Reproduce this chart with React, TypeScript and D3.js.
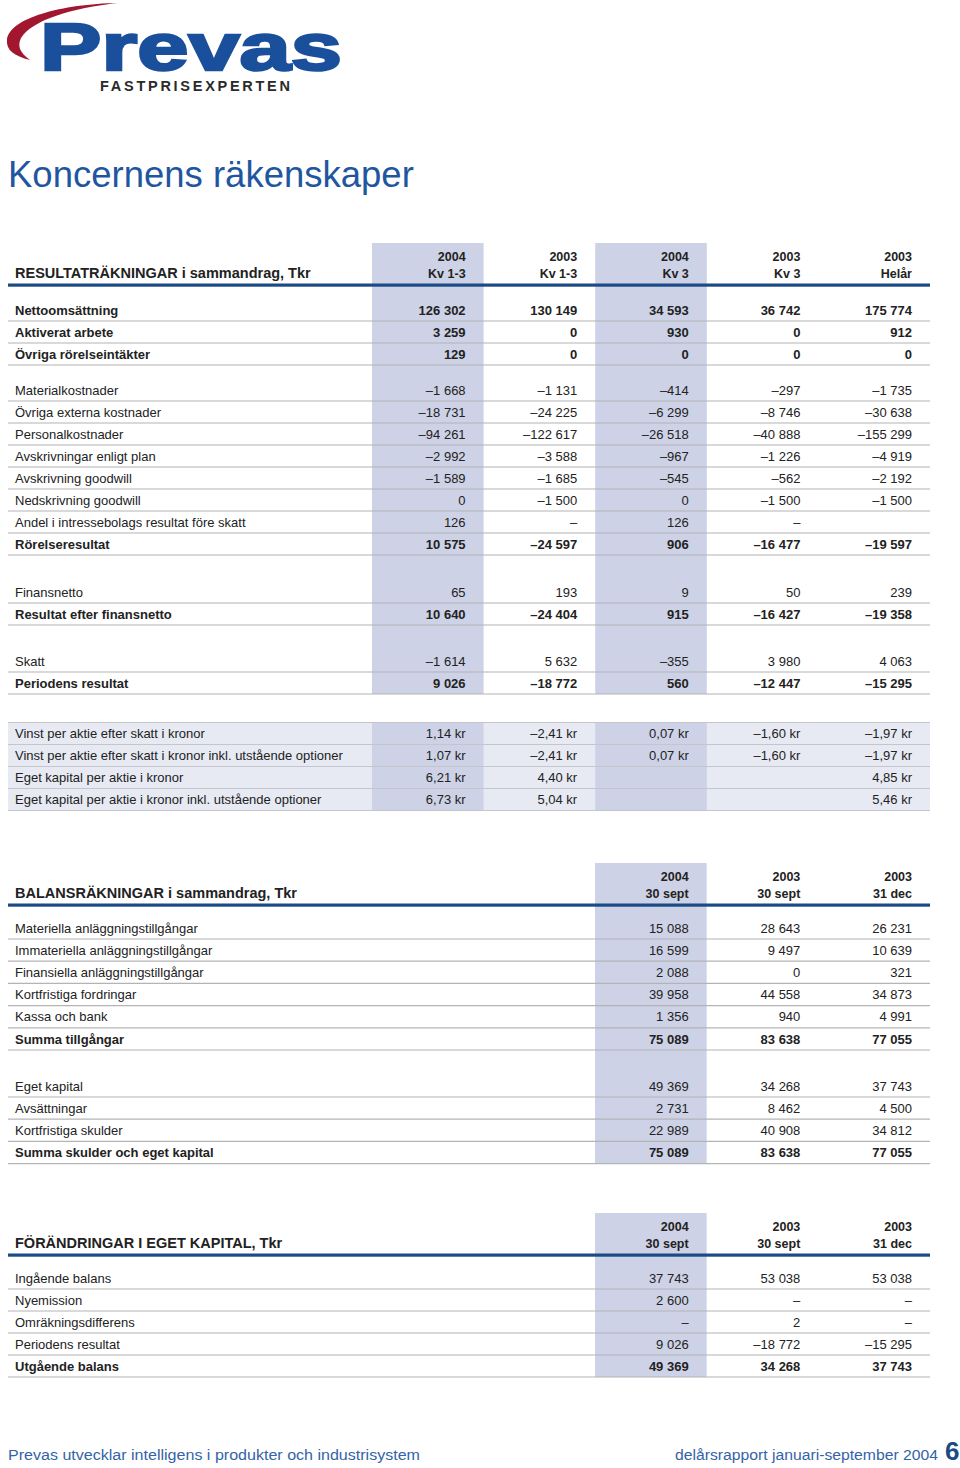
import React, { useEffect, useRef } from "react";
import * as d3 from "d3";

const DASH = "–";
type Cell = number | string | null;

// RESULTATRÄKNINGAR
const incomeHeads = [["2004", "Kv 1-3"], ["2003", "Kv 1-3"], ["2004", "Kv 3"], ["2003", "Kv 3"], ["2003", "Helår"]];
const incomeLabels = [
  "Nettoomsättning", "Aktiverat arbete", "Övriga rörelseintäkter",
  "Materialkostnader", "Övriga externa kostnader", "Personalkostnader", "Avskrivningar enligt plan",
  "Avskrivning goodwill", "Nedskrivning goodwill", "Andel i intressebolags resultat före skatt", "Rörelseresultat",
  "Finansnetto", "Resultat efter finansnetto",
  "Skatt", "Periodens resultat",
];
const income2004Kv13: Cell[] = [126302, 3259, 129, -1668, -18731, -94261, -2992, -1589, 0, 126, 10575, 65, 10640, -1614, 9026];
const income2003Kv13: Cell[] = [130149, 0, 0, -1131, -24225, -122617, -3588, -1685, -1500, DASH, -24597, 193, -24404, 5632, -18772];
const income2004Kv3: Cell[] = [34593, 930, 0, -414, -6299, -26518, -967, -545, 0, 126, 906, 9, 915, -355, 560];
const income2003Kv3: Cell[] = [36742, 0, 0, -297, -8746, -40888, -1226, -562, -1500, DASH, -16477, 50, -16427, 3980, -12447];
const income2003Helar: Cell[] = [175774, 912, 0, -1735, -30638, -155299, -4919, -2192, -1500, null, -19597, 239, -19358, 4063, -15295];
const incomeBold = ["Nettoomsättning", "Aktiverat arbete", "Övriga rörelseintäkter", "Rörelseresultat", "Resultat efter finansnetto", "Periodens resultat"];

// Nyckeltal per aktie (kr)
const shareLabels = [
  "Vinst per aktie efter skatt i kronor",
  "Vinst per aktie efter skatt i kronor inkl. utstående optioner",
  "Eget kapital per aktie i kronor",
  "Eget kapital per aktie i kronor inkl. utstående optioner",
];
const share2004Kv13: Cell[] = [1.14, 1.07, 6.21, 6.73];
const share2003Kv13: Cell[] = [-2.41, -2.41, 4.40, 5.04];
const share2004Kv3: Cell[] = [0.07, 0.07, null, null];
const share2003Kv3: Cell[] = [-1.60, -1.60, null, null];
const share2003Helar: Cell[] = [-1.97, -1.97, 4.85, 5.46];

// BALANSRÄKNINGAR
const balanceHeads = [["2004", "30 sept"], ["2003", "30 sept"], ["2003", "31 dec"]];
const balanceLabels = [
  "Materiella anläggningstillgångar", "Immateriella anläggningstillgångar", "Finansiella anläggningstillgångar",
  "Kortfristiga fordringar", "Kassa och bank", "Summa tillgångar",
  "Eget kapital", "Avsättningar", "Kortfristiga skulder", "Summa skulder och eget kapital",
];
const balance2004Sep: Cell[] = [15088, 16599, 2088, 39958, 1356, 75089, 49369, 2731, 22989, 75089];
const balance2003Sep: Cell[] = [28643, 9497, 0, 44558, 940, 83638, 34268, 8462, 40908, 83638];
const balance2003Dec: Cell[] = [26231, 10639, 321, 34873, 4991, 77055, 37743, 4500, 34812, 77055];
const balanceBold = ["Summa tillgångar", "Summa skulder och eget kapital"];

// FÖRÄNDRINGAR I EGET KAPITAL
const equityLabels = ["Ingående balans", "Nyemission", "Omräkningsdifferens", "Periodens resultat", "Utgående balans"];
const equity2004Sep: Cell[] = [37743, 2600, DASH, 9026, 49369];
const equity2003Sep: Cell[] = [53038, DASH, 2, -18772, 34268];
const equity2003Dec: Cell[] = [53038, DASH, DASH, -15295, 37743];
const equityBold = ["Utgående balans"];

const FONT = "'Liberation Sans', Arial, Helvetica, sans-serif";
const SHADE = "#cdd2e6";
const SHADE_LIGHT = "#e7eaf3";
const NAVY = "#1b4a85";
const RULE = "#b4b4b4";
const INK = "#222";

const sv = d3.formatLocale({ decimal: ",", thousands: " ", grouping: [3], currency: ["", " kr"], minus: "–" });
const fmtInt = sv.format(",d");
const fmtKr = sv.format("$.2f");

function cellText(v: Cell, kr = false) {
  if (v === null) return "";
  if (typeof v === "string") return v;
  return kr ? fmtKr(v) : fmtInt(v);
}

function drawTable(svg: any, o: any) {
  const g = svg.append("g");
  const x = d3.scaleBand<number>().domain(d3.range(o.series.length)).range(o.xRange).padding(0);
  const lineY = o.top + 42;
  const rowsY: number[] = [];
  let y = lineY + o.first;
  o.labels.forEach((_: string, i: number) => {
    if (i > 0) y += o.rowH + (o.gaps[i] || 0);
    rowsY.push(y);
  });
  const bottom = rowsY[rowsY.length - 1] + 11;

  g.selectAll("rect.shade")
    .data(o.shaded)
    .enter().append("rect")
    .attr("x", (d: number) => x(d)!)
    .attr("y", o.top)
    .attr("width", x.bandwidth())
    .attr("height", bottom - o.top)
    .attr("fill", SHADE);

  g.append("text")
    .attr("x", 15).attr("y", o.top + 35)
    .attr("font-family", FONT).attr("font-size", 14.5).attr("font-weight", "bold").attr("fill", INK)
    .text(o.title);

  const heads = g.selectAll("g.head").data(o.heads).enter().append("g");
  [0, 1].forEach((k) => {
    heads.append("text")
      .attr("x", (_: any, i: number) => x(i)! + x.bandwidth() - 18)
      .attr("y", o.top + 18 + k * 16.5)
      .attr("text-anchor", "end")
      .attr("font-family", FONT).attr("font-size", 12.5).attr("font-weight", "bold").attr("fill", INK)
      .text((d: string[]) => d[k]);
  });

  g.append("rect").attr("x", 8).attr("y", lineY - 1.5).attr("width", 922).attr("height", 3.2).attr("fill", NAVY);

  g.selectAll("line.rule").data(rowsY).enter().append("line")
    .attr("x1", 8).attr("x2", 930)
    .attr("y1", (d: number) => d + 11).attr("y2", (d: number) => d + 11)
    .attr("stroke", RULE).attr("stroke-width", 1.2);

  const rows = g.selectAll("g.row").data(o.labels).enter().append("g")
    .attr("transform", (_: any, i: number) => `translate(0,${rowsY[i] + 4.6})`)
    .attr("font-family", FONT).attr("font-size", 13).attr("fill", INK)
    .attr("font-weight", (d: string) => (o.bold.includes(d) ? "bold" : "normal"));
  rows.append("text").attr("x", 15).text((d: string) => d);
  o.series.forEach((s: Cell[], c: number) => {
    rows.append("text")
      .attr("x", x(c)! + x.bandwidth() - 18)
      .attr("text-anchor", "end")
      .text((_: string, i: number) => cellText(s[i]));
  });
}

function drawShares(svg: any) {
  const g = svg.append("g");
  const series = [share2004Kv13, share2003Kv13, share2004Kv3, share2003Kv3, share2003Helar];
  const x = d3.scaleBand<number>().domain(d3.range(series.length)).range([372, 930]);
  const top = 722.5;
  const y = d3.scaleBand<number>().domain(d3.range(shareLabels.length)).range([top, top + 88]);
  g.append("rect").attr("x", 8).attr("y", top).attr("width", 922).attr("height", 88).attr("fill", SHADE_LIGHT);
  g.selectAll("rect.s").data([0, 2]).enter().append("rect")
    .attr("x", (d: number) => x(d)!).attr("y", top).attr("width", x.bandwidth()).attr("height", 88).attr("fill", SHADE);
  g.selectAll("line").data(d3.range(shareLabels.length + 1)).enter().append("line")
    .attr("x1", 8).attr("x2", 930)
    .attr("y1", (d: number) => top + d * y.bandwidth()).attr("y2", (d: number) => top + d * y.bandwidth())
    .attr("stroke", "#c4c6cc").attr("stroke-width", 1.2);
  const rows = g.selectAll("g.row").data(shareLabels).enter().append("g")
    .attr("transform", (_: any, i: number) => `translate(0,${y(i)! + y.bandwidth() / 2 + 4.6})`)
    .attr("font-family", FONT).attr("font-size", 13).attr("fill", INK);
  rows.append("text").attr("x", 15).text((d: string) => d);
  series.forEach((s, c) => {
    rows.append("text")
      .attr("x", x(c)! + x.bandwidth() - 18)
      .attr("text-anchor", "end")
      .text((_: string, i: number) => cellText(s[i], true));
  });
}

export default function App() {
  const ref = useRef<SVGSVGElement>(null);

  useEffect(() => {
    document.body.style.margin = "0";
    const svg = d3.select(ref.current);
    svg.selectAll("*").remove();

    // logo
    const logo = svg.append("g");
    logo.append("path")
      .attr("d", "M118,3 C62,4 9,18 7,40 C6,50 14,56 30,60 C20,53 17,46 21,38 C32,20 72,8 118,3 Z")
      .attr("fill", "#a3162f");
    logo.append("text")
      .attr("x", 40).attr("y", 70)
      .attr("font-family", FONT).attr("font-size", 66).attr("font-weight", "bold")
      .attr("fill", "#1a4f9c").attr("stroke", "#1a4f9c").attr("stroke-width", 2.5)
      .attr("textLength", 302).attr("lengthAdjust", "spacingAndGlyphs")
      .text("Prevas");
    logo.append("text")
      .attr("x", 100).attr("y", 91)
      .attr("font-family", FONT).attr("font-size", 14.5).attr("font-weight", "bold")
      .attr("fill", "#2a2a2a").attr("textLength", 190).attr("lengthAdjust", "spacing")
      .text("FASTPRISEXPERTEN");

    svg.append("text")
      .attr("x", 8).attr("y", 187)
      .attr("font-family", FONT).attr("font-size", 36.5).attr("fill", "#1f56a0")
      .text("Koncernens räkenskaper");

    drawTable(svg, {
      top: 243, first: 25, rowH: 22, gaps: { 3: 14, 11: 26, 13: 25 },
      title: "RESULTATRÄKNINGAR i sammandrag, Tkr",
      heads: incomeHeads, labels: incomeLabels, bold: incomeBold,
      series: [income2004Kv13, income2003Kv13, income2004Kv3, income2003Kv3, income2003Helar],
      xRange: [372, 930], shaded: [0, 2],
    });
    drawShares(svg);
    drawTable(svg, {
      top: 863, first: 23, rowH: 22.2, gaps: { 6: 24.8 },
      title: "BALANSRÄKNINGAR i sammandrag, Tkr",
      heads: balanceHeads, labels: balanceLabels, bold: balanceBold,
      series: [balance2004Sep, balance2003Sep, balance2003Dec],
      xRange: [595, 930], shaded: [0],
    });
    drawTable(svg, {
      top: 1213, first: 23, rowH: 22, gaps: {},
      title: "FÖRÄNDRINGAR I EGET KAPITAL, Tkr",
      heads: balanceHeads, labels: equityLabels, bold: equityBold,
      series: [equity2004Sep, equity2003Sep, equity2003Dec],
      xRange: [595, 930], shaded: [0],
    });

    // footer
    svg.append("text")
      .attr("x", 8).attr("y", 1460)
      .attr("font-family", FONT).attr("font-size", 15.5).attr("fill", "#3563a8")
      .attr("textLength", 412).attr("lengthAdjust", "spacingAndGlyphs")
      .text("Prevas utvecklar intelligens i produkter och industrisystem");
    svg.append("text")
      .attr("x", 675).attr("y", 1460)
      .attr("font-family", FONT).attr("font-size", 15.5).attr("fill", "#3563a8")
      .attr("textLength", 263).attr("lengthAdjust", "spacingAndGlyphs")
      .text("delårsrapport januari-september 2004");
    svg.append("text")
      .attr("x", 945).attr("y", 1460)
      .attr("font-family", FONT).attr("font-size", 26).attr("font-weight", "bold").attr("fill", NAVY)
      .text("6");
  }, []);

  return <svg ref={ref} width={960} height={1468} style={{ display: "block", background: "#fff" }} />;
}
